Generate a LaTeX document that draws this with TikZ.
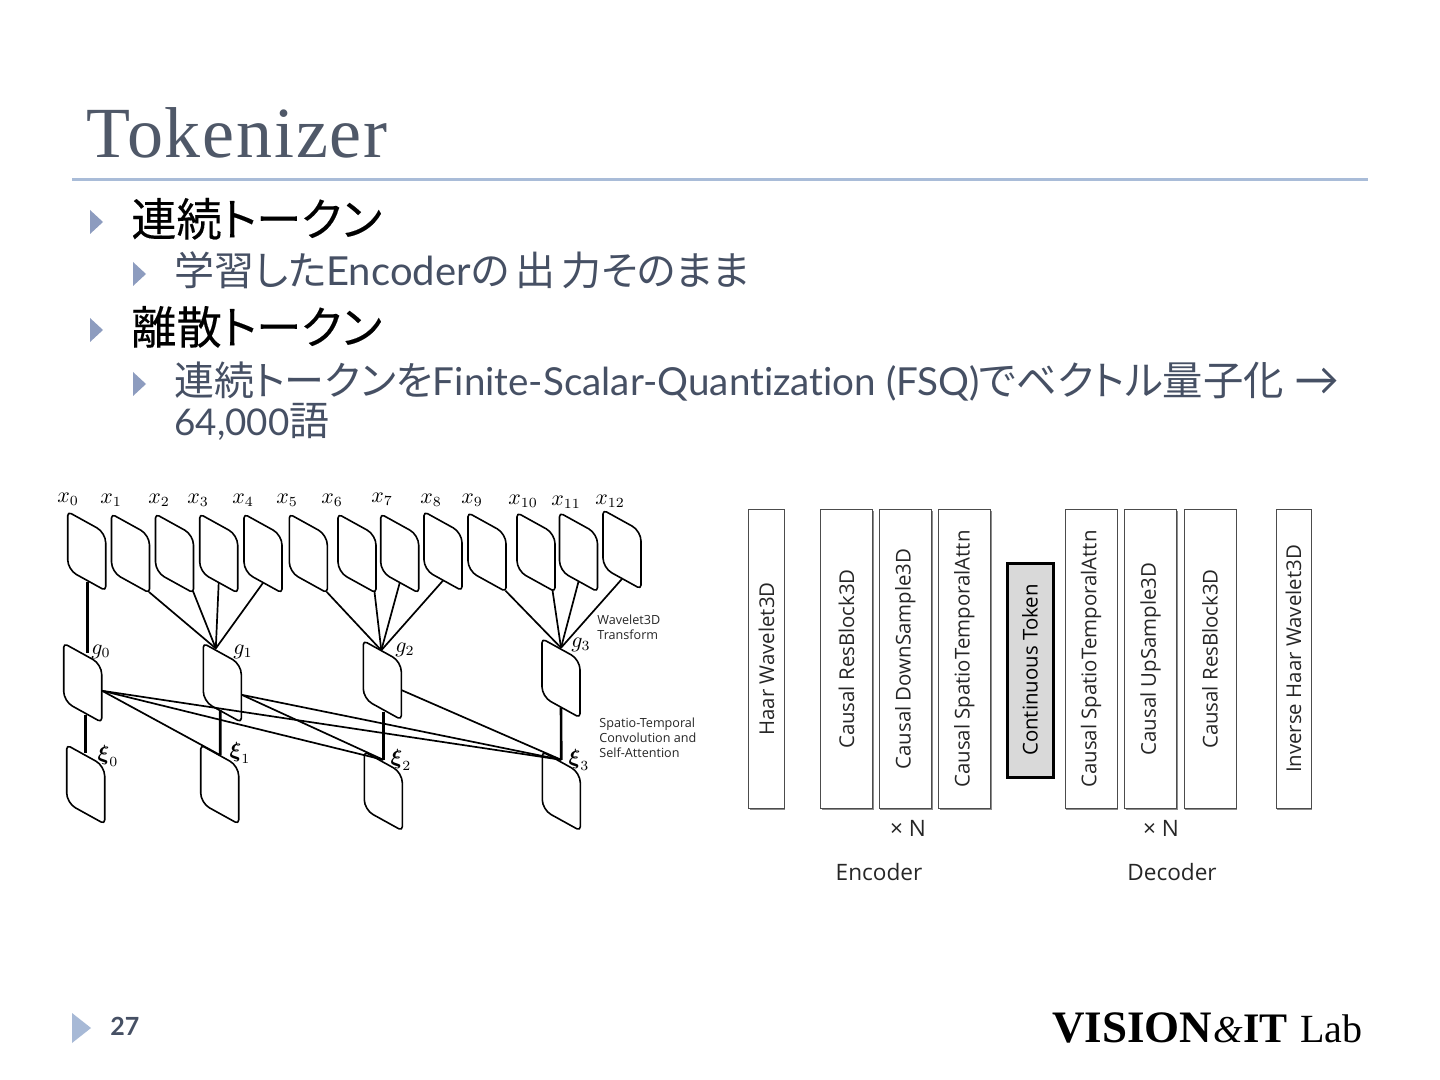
\documentclass[tikz,border=0pt]{standalone}
\usepackage[no-math]{fontspec}
\usepackage{amsmath,amssymb}
\usetikzlibrary{calc,shadows}
\newfontfamily\cjk[RawFeature=+palt]{Noto Sans CJK JP}
\newfontfamily\cjkb[RawFeature=+palt,FakeBold=0.25]{Noto Sans CJK JP}
\newfontfamily\gill{Lato}
\newfontfamily\gillnl[Ligatures=NoCommon]{Lato}
\newfontfamily\figsans{Open Sans}
\newfontfamily\serifT{Liberation Serif}
\newfontfamily\serifS[LetterSpace=2.5]{Liberation Serif}
\definecolor{titlecol}{HTML}{4F5868}
\definecolor{subcol}{HTML}{465064}
\definecolor{rulecol}{HTML}{A9BCD8}
\definecolor{bulcol}{HTML}{8D9CBF}
\definecolor{footcol}{HTML}{A7B9D6}
\newcommand\pbox[3]{%
  \node[inner sep=0pt,minimum width=19pt,minimum height=29pt] (#1) at (#2+19,#3+39.5) {};
  \draw[pline,fill=white] (#2+19,#3+10.5) [rounded corners=5pt] -- (#2+38,#3+21) [rounded corners=2pt] -- (#2+38,#3+79) [rounded corners=5pt] -- (#2,#3+58) [rounded corners=2pt] -- (#2,#3) -- (#2+19,#3+10.5);}
\newcommand\bul[3]{\fill[#3] (#1,#2) -- (#1+13,#2+12) -- (#1,#2+24) -- cycle;}
\tikzset{
  pline/.style={black,line width=0.8pt,line join=round},
  plink/.style={black,line width=0.85pt},
  vlink/.style={black,line width=1.3pt},
  lev1/.style={anchor=base west,inner sep=0pt,text=black,font=\cjkb\fontsize{22.6}{28}\selectfont},
  lev2/.style={anchor=base west,inner sep=0pt,text=subcol,font=\gill\fontsize{20}{24}\selectfont},
  mlab/.style={inner sep=0pt,font=\fontsize{10.5}{12}\selectfont},
  capt/.style={anchor=west,inner sep=0pt,text=black!85,font=\figsans\fontsize{6.3}{7.6}\selectfont,align=left},
  vbox/.style={draw=black!70,line width=0.5pt,fill=white,inner sep=0pt,drop shadow={shadow xshift=0.6pt,shadow yshift=-0.9pt,fill=black!45,opacity=1}},
  vtext/.style={rotate=90,inner sep=0pt,text=black!85,font=\figsans\fontsize{10.2}{12}\selectfont},
  ftext/.style={inner sep=0pt,text=black!85,font=\figsans\fontsize{11.3}{13}\selectfont},
  logo/.style={anchor=base west,inner sep=0pt,text=black,font=\serifT\bfseries\fontsize{22.5}{26}\selectfont},
}
\begin{document}
\begin{tikzpicture}[x=0.5pt,y=-0.5pt]
\useasboundingbox (0,0) rectangle (1440,1080);
\fill[white] (0,0) rectangle (1440,1080);
% title
\node[anchor=base west,inner sep=0pt,text=titlecol,font=\serifS\fontsize{36}{40}\selectfont] (title) at (86,158) {Tokenizer};
\fill[rulecol] (72,178.5) rectangle (1368,181.5);
% bullets
\bul{90}{210}{bulcol}
\bul{133}{262}{bulcol}
\bul{90}{318}{bulcol}
\bul{133}{372}{bulcol}
\node[lev1] (l1) at (131,236) {連続トークン};
\node[lev2] (l2) at (174,286) {{\cjk 学習した}Encoder{\cjk の\kern3pt 出\kern3pt 力そのまま}};
\node[lev1] (l3) at (131,344) {離散トークン};
\node[lev2] (l4) at (174,396) {{\cjk 連続トークンを}{\gillnl\fontsize{19.3}{24}\selectfont Finite-Scalar-Quantization (FSQ)}{\cjk\fontsize{20.2}{24}\selectfont でベクトル量子化} {\fontsize{22.5}{24}\selectfont →}};
\node[lev2] (l5) at (174,436) {{\fontsize{18.4}{24}\selectfont 64,000}{\cjk 語}};
% footer
\fill[footcol] (72,1013) -- (91,1028) -- (72,1043) -- cycle;
\node[anchor=base west,inner sep=0pt,text=subcol,font=\gill\bfseries\fontsize{12.5}{15}\selectfont] (page) at (110,1035) {27};
\node[logo] (logo1) at (1052,1042) {VISION};
\node[anchor=base west,inner sep=0pt,font=\serifT\itshape\fontsize{19}{20}\selectfont] (logo2) at (1213,1042) {\&};
\node[logo,font=\serifT\bfseries\fontsize{21}{26}\selectfont] (logo3) at (1243,1042) {IT};
\node[anchor=base west,inner sep=0pt,font=\serifT\fontsize{20}{22}\selectfont] (logo4) at (1300,1042) {Lab};
% left figure boxes
\pbox{x0}{67.7}{511.7}
\pbox{x1}{111.5}{514}
\pbox{x2}{155.5}{514}
\pbox{x3}{199.7}{514}
\pbox{x4}{244}{514}
\pbox{x5}{289.3}{514}
\pbox{x6}{338}{514}
\pbox{x7}{380.7}{514}
\pbox{x8}{424}{511.7}
\pbox{x9}{468}{512.7}
\pbox{x10}{517}{512.7}
\pbox{x11}{559.5}{512.7}
\pbox{x12}{603}{510}
\pbox{g0}{63.7}{643.3}
\pbox{g1}{203.3}{643.3}
\pbox{g2}{363.3}{640.7}
\pbox{g3}{542}{638.7}
\pbox{xi0}{66.7}{745}
\pbox{xi1}{200.7}{745}
\pbox{xi2}{364.3}{751.7}
\pbox{xi3}{542.3}{751.7}
% connectors
\coordinate (i1) at ($(xi1.north)+(0.5,0)$);
\coordinate (i2) at ($(xi2.north)+(0,-2)$);
\coordinate (i3) at ($(xi3.north)+(0,-2)$);
\draw[vlink] (x0.south) ++(1,1) -- ($(g0.north)+(5,0)$);
\draw[vlink] (g0.south) ++(3,3) -- ($(xi0.north)+(0,-2)$);
\draw[vlink] (g1.south) ++(-2,-2) -- (i1);
\draw[vlink] (g2.south) ++(1,2) -- (i2);
\draw[vlink] (g3.south) -- (i3);
\coordinate (c1) at ($(g1.north)+(-6.5,-5)$);
\coordinate (c2) at ($(g2.north)+(-1,-0.5)$);
\coordinate (c3) at ($(g3.north)+(0,-1)$);
\draw[plink] (x1.south east) ++(-1,9) -- (c1);
\draw[plink] (x2.south east) ++(-1,8) -- (c1);
\draw[plink] (x3.south) -- (c1);
\draw[plink] (x4.south) -- (c1);
\draw[plink] (x5.south east) ++(-1,9) -- (c2);
\draw[plink] (x6.south east) ++(-2,8) -- (c2);
\draw[plink] (x7.south) -- (c2);
\draw[plink] (x8.south) -- (c2);
\draw[plink] (x9.south east) ++(-1,9) -- (c3);
\draw[plink] (x10.south east) ++(-3,8) -- (c3);
\draw[plink] (x11.south) -- (c3);
\draw[plink] (x12.south) -- (c3);
\coordinate (o0) at ($(g0.east)+(0,8)$);
\coordinate (o1) at ($(g1.east)+(0,12)$);
\coordinate (o2) at ($(g2.east)+(0,10)$);
\draw[plink] (o0) -- (i1);
\draw[plink] (o0) -- (i2);
\draw[plink] (o0) -- (i3);
\draw[plink] (o1) -- (i2);
\draw[plink] (o1) -- (i3);
\draw[plink] (o2) -- (i3);
% math labels
\foreach \n/\tx/\ty/\t in {a0/68/499/x_0,a1/111/500/x_1,a2/159/500/x_2,a3/198/500/x_3,a4/243/500/x_4,a5/287/500/x_5,a6/332/500/x_6,a7/382/499/x_7,a8/431/500/x_8,a9/472/500/x_9,a10/523/501/x_{10},a11/566/502/x_{11},a12/610/501/x_{12},b0/101/652/g_0,b1/243/652/g_1,b2/405/650/g_2,b3/581/645/g_3,c0/108/756/\boldsymbol{\xi}_0,c1/240/753/\boldsymbol{\xi}_1,c2/401/760/\boldsymbol{\xi}_2,c3/579/760/\boldsymbol{\xi}_3}
  \node[mlab] (lab\n) at (\tx,\ty) {$\t$};
\node[capt] (cap1) at (597,627.5) {Wavelet3D\\Transform};
\node[capt] (cap2) at (599,737.5) {Spatio-Temporal\\Convolution and\\Self-Attention};
% right figure
\foreach \n/\L/\R/\t in {haar/748.7/784/Haar Wavelet3D,eres/820.7/872.3/Causal ResBlock3D,edown/879/931.7/Causal DownSample3D,eatt/938.3/990.3/Causal SpatioTemporalAttn,datt/1065/1117/Causal SpatioTemporalAttn,dup/1124.5/1176.5/Causal UpSample3D,dres/1184/1236/Causal ResBlock3D,ihaar/1276/1311/Inverse Haar Wavelet3D}{
  \node[vbox,minimum width={(\R-\L)*0.5pt},minimum height=149.5pt] (\n) at ({(\L+\R)/2},659) {};
  \node[vtext] at (\n) {\t};
}
\node[draw=black,line width=1.5pt,fill=black!15,inner sep=0pt,minimum width=23pt,minimum height=107pt] (tok) at (1030,670) {};
\node[vtext,text=black] at (tok) {Continuous Token};
\node[ftext] (n1) at (908,828) {× N};
\node[ftext] (n2) at (1161,828) {× N};
\node[ftext] (enc) at (879,872) {Encoder};
\node[ftext] (dec) at (1172,872) {Decoder};
\end{tikzpicture}
\end{document}
